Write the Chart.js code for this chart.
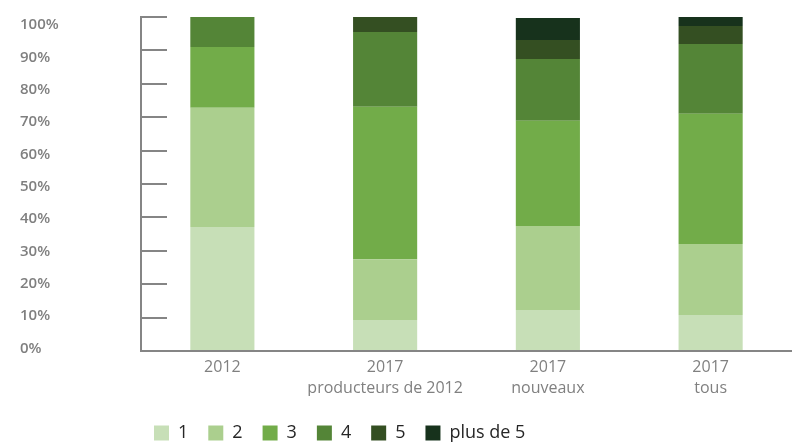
<!DOCTYPE html>
<html>
<head>
<meta charset="utf-8">
<script src="https://cdn.jsdelivr.net/npm/chart.js@4/dist/chart.umd.min.js"></script>
<style>
html,body{margin:0;padding:0;background:#ffffff;}
#wrap{width:792px;height:444px;}
</style>
</head>
<body>
<div id="wrap"><canvas id="c" width="792" height="444"></canvas></div>
<script>
// Categories (multi-line labels)
const categories = [['2012'], ['2017', 'producteurs de 2012'], ['2017', 'nouveaux'], ['2017', 'tous']];
// Series names (legend)
const seriesNames = ['1', '2', '3', '4', '5', 'plus de 5'];
// Series values (% of each bar)
const s1 = [37.1, 9.3, 12.3, 10.8];
const s2 = [35.7, 18.2, 25.1, 21.2];
const s3 = [18.2, 45.6, 31.5, 39.0];
const s4 = [9.0, 22.4, 18.5, 20.9];
const s5 = [0, 4.5, 5.7, 5.4];
const s6 = [0, 0, 6.6, 2.7];
// Y tick values and labels
const yTickValues = [0, 10, 20, 30, 40, 50, 60, 70, 80, 90, 100];
const tickLabel = v => v + '%';

const seriesValues = [s1, s2, s3, s4, s5, s6];
const colors = ['#c7dfb7', '#abcf8e', '#72ac49', '#548537', '#344f22', '#17321c'];

const legendPlace = {
  id: 'legendPlace',
  afterLayout(chart) {
    const lg = chart.legend;
    const pad = chart.options.plugins.legend.labels.padding;
    const w = lg.width, h = lg.height;
    lg.left = 154 - pad; lg.right = lg.left + w;
    lg.top = 404; lg.bottom = lg.top + h;
  }
};

new Chart(document.getElementById('c'), {
  type: 'bar',
  data: {
    labels: categories,
    datasets: seriesNames.map((name, i) => ({
      label: name,
      data: seriesValues[i],
      backgroundColor: colors[i],
      borderWidth: 0,
      categoryPercentage: 1,
      barPercentage: 0.394
    }))
  },
  plugins: [legendPlace],
  options: {
    responsive: false,
    devicePixelRatio: 1,
    animation: false,
    layout: { padding: { left: 20, top: 17, right: 0, bottom: 0 } },
    plugins: {
      tooltip: { enabled: false },
      legend: {
        position: 'bottom',
        align: 'start',
        fullSize: false,
        labels: {
          boxWidth: 15,
          boxHeight: 15,
          padding: 20,
          color: '#262626',
          font: { family: 'Open Sans', size: 18 }
        }
      }
    },
    scales: {
      x: {
        stacked: true,
        grid: { display: true, drawOnChartArea: false, drawTicks: false },
        border: { display: true, color: '#858585', width: 2 },
        ticks: {
          color: '#808080',
          padding: 6,
          font: { family: 'Open Sans', size: 16, lineHeight: 1.3 },
          maxRotation: 0
        },
        afterFit(scale) { scale.height = 45; }
      },
      // value axis: tick marks and axis line
      y: {
        stacked: true,
        position: 'left',
        weight: 0,
        min: yTickValues[0],
        max: yTickValues[yTickValues.length - 1],
        grid: { display: true, drawOnChartArea: false, drawTicks: true, tickLength: -26, color: '#858585', lineWidth: 2 },
        border: { display: true, color: '#858585', width: 2 },
        ticks: { display: false, stepSize: 10 },
        afterFit(scale) { scale.width = 0; }
      },
      // label axis: the percent labels, spaced slightly tighter than the tick marks as in the source
      yLabels: {
        type: 'linear',
        position: 'left',
        weight: 1,
        min: -0.77,
        max: 102.5,
        bounds: 'data',
        grid: { display: false },
        border: { display: false },
        ticks: {
          crossAlign: 'far',
          color: '#7f7f7f',
          font: { family: 'Open Sans', size: 15, weight: '600' },
          callback: tickLabel
        },
        afterBuildTicks(scale) { scale.ticks = yTickValues.map(v => ({ value: v })); },
        afterFit(scale) { scale.width = 121; }
      }
    }
  }
});
</script>
</body>
</html>
